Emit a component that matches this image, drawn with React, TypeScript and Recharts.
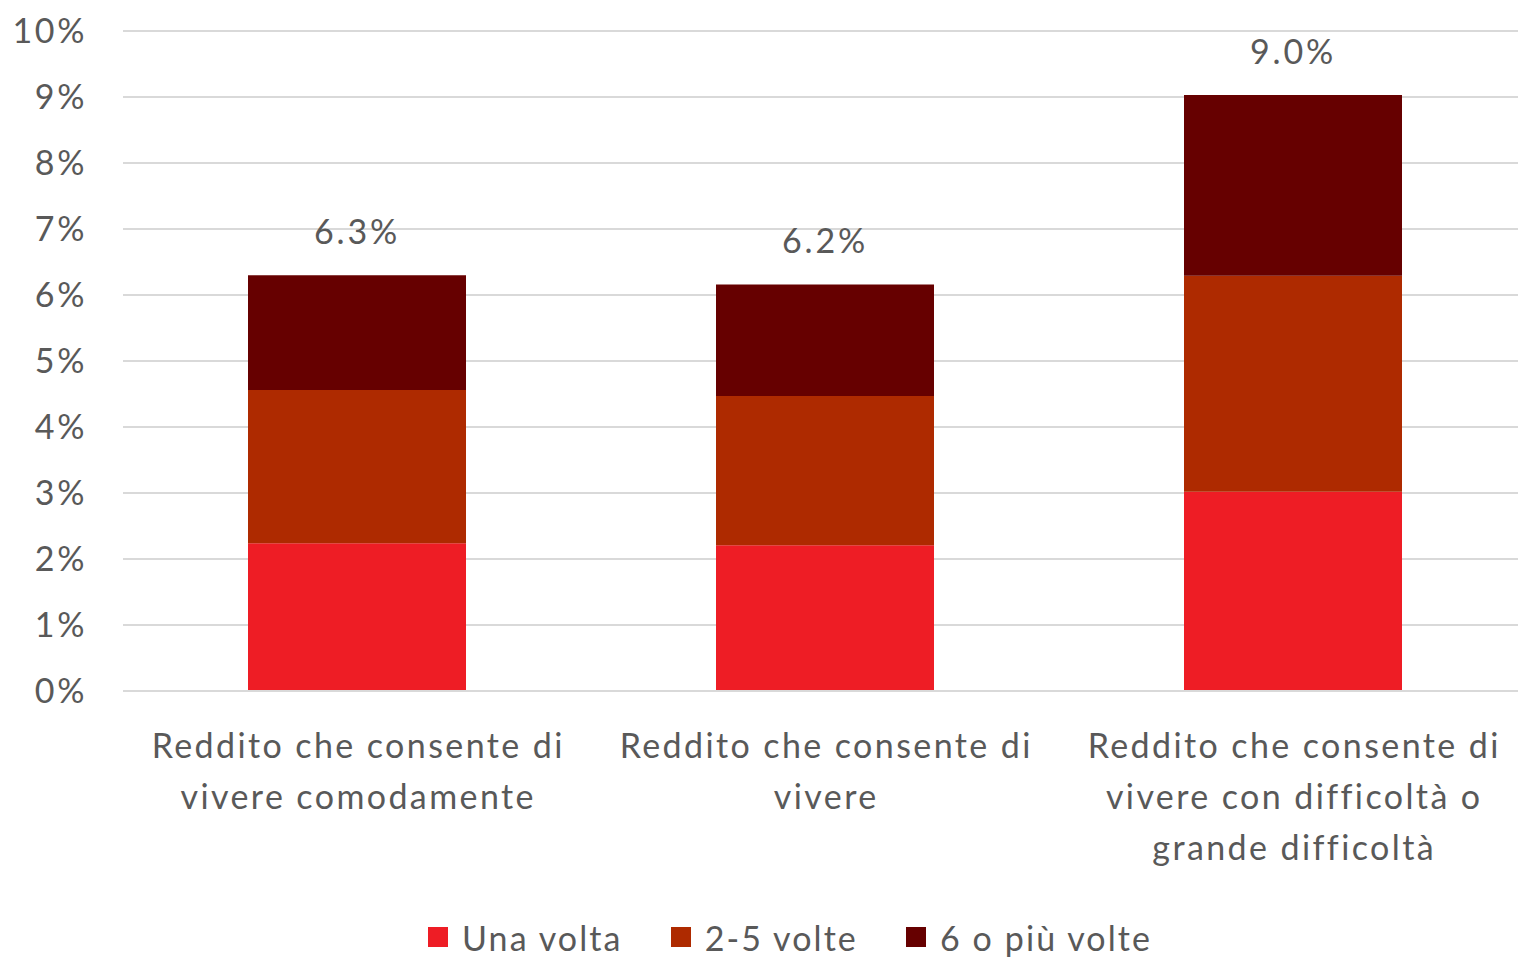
import React from 'react';
import { BarChart, Bar, XAxis, YAxis, CartesianGrid, Legend, LabelList } from 'recharts';

const categories = [
  'Reddito che consente di\nvivere comodamente',
  'Reddito che consente di\nvivere',
  'Reddito che consente di\nvivere con difficoltà o\ngrande difficoltà',
];
const unaVolta = [2.24, 2.21, 3.02];
const dueCinqueVolte = [2.32, 2.26, 3.27];
const seiPiuVolte = [1.74, 1.69, 2.74];
const totals = [6.3, 6.2, 9.0];
const yTicks = [0, 1, 2, 3, 4, 5, 6, 7, 8, 9, 10];

const series = [
  { key: 'una', name: 'Una volta', color: '#EE1D25' },
  { key: 'due', name: '2-5 volte', color: '#AE2A00' },
  { key: 'sei', name: '6 o più volte', color: '#660000' },
];

const data = categories.map((name, i) => ({
  name,
  una: unaVolta[i],
  due: dueCinqueVolte[i],
  sei: seiPiuVolte[i],
  total: totals[i],
}));

const FONT = 'Lato, "Noto Sans", sans-serif';
const TEXT = '#595959';
const SPACING = 2.4;

const CategoryTick = (props: any) => {
  const { x, y, payload } = props;
  const lines = String(payload.value).split('\n');
  return (
    <text x={x} y={y} textAnchor="middle" fill={TEXT} fontSize={34} fontFamily={FONT} letterSpacing={SPACING}>
      {lines.map((line, i) => (
        <tspan key={i} x={x + SPACING / 2} y={y + 59 + i * 51}>
          {line}
        </tspan>
      ))}
    </text>
  );
};

const LegendContent = () => (
  <div
    style={{
      display: 'flex',
      height: 40,
      alignItems: 'center',
      paddingLeft: 428,
      fontFamily: FONT,
      fontSize: 34,
      color: TEXT,
      letterSpacing: 2.1,
    }}
  >
    {series.map((s) => (
      <div key={s.key} style={{ display: 'flex', alignItems: 'center', marginRight: 48 }}>
        <span style={{ width: 20, height: 20, background: s.color, marginRight: 14 }} />
        <span>{s.name}</span>
      </div>
    ))}
  </div>
);

export default function App() {
  return (
    <div style={{ position: 'absolute', left: 0, top: 0, width: 1518, height: 957, overflow: 'hidden', background: '#fff' }}>
      <BarChart
        width={1527}
        height={957}
        data={data}
        margin={{ top: 31, right: 0, bottom: 0, left: 0 }}
        barSize={218}
      >
        <CartesianGrid vertical={false} stroke="#d9d9d9" strokeWidth={2} />
        <XAxis
          dataKey="name"
          height={226}
          interval={0}
          tick={<CategoryTick />}
          tickLine={false}
          axisLine={{ stroke: '#d9d9d9', strokeWidth: 2 }}
        />
        <YAxis
          width={123}
          domain={[0, 10]}
          ticks={yTicks}
          tickFormatter={(v: number) => `${v}%`}
          tickLine={false}
          axisLine={false}
          tickSize={6}
          tickMargin={30}
          tick={{ fill: TEXT, fontSize: 34, fontFamily: FONT, letterSpacing: 2.6 }}
        />
        <Legend verticalAlign="bottom" content={<LegendContent />} wrapperStyle={{ left: 0, width: 1518 }} />
        {series.map((s, idx) => (
          <Bar key={s.key} dataKey={s.key} name={s.name} stackId="a" fill={s.color} isAnimationActive={false}>
            {idx === series.length - 1 && (
              <LabelList
                dataKey="total"
                position="top"
                offset={31}
                formatter={(v: any) => `${Number(v).toFixed(1)}%`}
                fill={TEXT}
                fontSize={34}
                fontFamily={FONT}
                letterSpacing={2.8}
              />
            )}
          </Bar>
        ))}
      </BarChart>
    </div>
  );
}
